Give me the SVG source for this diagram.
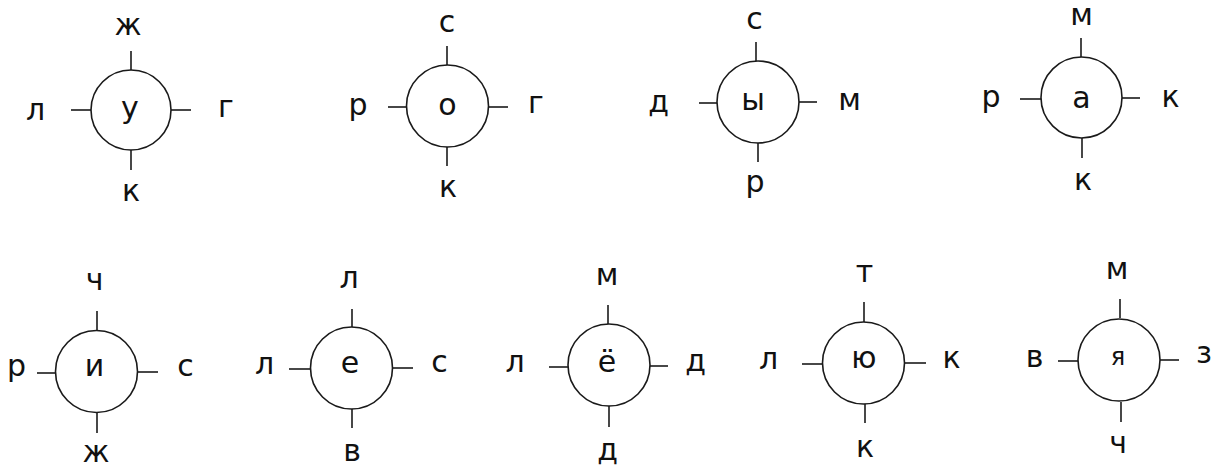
<svg xmlns="http://www.w3.org/2000/svg" width="1221" height="466" viewBox="0 0 1221 466">
<style>
.c{fill:none;stroke:#1a1a1a;stroke-width:1.6}
.t{stroke:#1a1a1a;stroke-width:1.6}
text{font-family:"DejaVu Sans","Liberation Sans",sans-serif;font-size:30px;fill:#111;text-anchor:middle}
.s{font-size:24px}
</style>
<rect width="1221" height="466" fill="#fff"/>
<g id="connectors"/>
<g id="node-u">
<circle class="c" cx="131" cy="110" r="40"/>
<line class="t" x1="131" y1="51" x2="131" y2="70"/><line class="t" x1="131" y1="150" x2="131" y2="170"/>
<line class="t" x1="71" y1="110" x2="91" y2="110"/><line class="t" x1="171" y1="110" x2="191" y2="110"/>
<text x="130" y="118">у</text><text x="128" y="35">ж</text><text x="35.5" y="120">л</text><text x="226" y="117">г</text><text x="131" y="201">к</text>
</g>
<g id="node-o">
<circle class="c" cx="447.5" cy="106" r="41"/>
<line class="t" x1="447" y1="46" x2="447" y2="65"/><line class="t" x1="447" y1="147" x2="447" y2="166"/>
<line class="t" x1="388" y1="107" x2="407" y2="107"/><line class="t" x1="488" y1="107" x2="508" y2="107"/>
<text x="447.5" y="115">о</text><text x="447" y="32">с</text><text x="358" y="115">р</text><text x="536" y="113">г</text><text x="448" y="197">к</text>
</g>
<g id="node-y">
<circle class="c" cx="758" cy="102" r="41"/>
<line class="t" x1="756" y1="42" x2="756" y2="61"/><line class="t" x1="758" y1="143" x2="758" y2="162"/>
<line class="t" x1="699" y1="103" x2="717" y2="103"/><line class="t" x1="799" y1="102" x2="817" y2="102"/>
<text x="753" y="110">ы</text><text x="754.5" y="29">с</text><text x="658.5" y="112">д</text><text x="849.5" y="110">м</text><text x="755" y="192">р</text>
</g>
<g id="node-a">
<circle class="c" cx="1081.5" cy="97.5" r="40.5"/>
<line class="t" x1="1081" y1="38" x2="1081" y2="57"/><line class="t" x1="1082" y1="138" x2="1082" y2="158"/>
<line class="t" x1="1020" y1="99" x2="1041" y2="99"/><line class="t" x1="1122" y1="98" x2="1140" y2="98"/>
<text x="1081.5" y="108">а</text><text x="1081.5" y="25">м</text><text x="991" y="107">р</text><text x="1170.5" y="107">к</text><text x="1083" y="190">к</text>
</g>
<g id="node-i">
<circle class="c" cx="96.5" cy="371.5" r="41"/>
<line class="t" x1="97" y1="311" x2="97" y2="330"/><line class="t" x1="97" y1="413" x2="97" y2="433"/>
<line class="t" x1="37" y1="373" x2="56" y2="373"/><line class="t" x1="137" y1="372" x2="158" y2="372"/>
<text x="94.5" y="376">и</text><text x="94.5" y="290">ч</text><text x="16.5" y="376">р</text><text x="185.5" y="376">с</text><text x="96" y="462">ж</text>
</g>
<g id="node-e">
<circle class="c" cx="351.5" cy="368" r="41"/>
<line class="t" x1="352" y1="309" x2="352" y2="327"/><line class="t" x1="352" y1="409" x2="352" y2="428"/>
<line class="t" x1="289" y1="369" x2="310" y2="369"/><line class="t" x1="393" y1="368" x2="413" y2="368"/>
<text x="350" y="373">е</text><text x="349" y="288">л</text><text x="264.5" y="374">л</text><text x="439.5" y="372">с</text><text x="352" y="461">в</text>
</g>
<g id="node-yo">
<circle class="c" cx="609" cy="365" r="41"/>
<line class="t" x1="608" y1="305" x2="608" y2="324"/><line class="t" x1="609" y1="406" x2="609" y2="427"/>
<line class="t" x1="549" y1="367" x2="568" y2="367"/><line class="t" x1="650" y1="366" x2="668" y2="366"/>
<text x="607" y="372">ё</text><text x="607" y="285">м</text><text x="515" y="372">л</text><text x="695.5" y="371">д</text><text x="607.5" y="460">д</text>
</g>
<g id="node-yu">
<circle class="c" cx="863.5" cy="363" r="41"/>
<line class="t" x1="864" y1="302" x2="864" y2="322"/><line class="t" x1="865" y1="404" x2="865" y2="423"/>
<line class="t" x1="802" y1="364" x2="822" y2="364"/><line class="t" x1="905" y1="363" x2="926" y2="363"/>
<text x="864" y="368">ю</text><text x="864.5" y="282">т</text><text x="768.5" y="369">л</text><text x="951.5" y="368">к</text><text x="865" y="457">к</text>
</g>
<g id="node-ya">
<circle class="c" cx="1119" cy="360" r="41"/>
<line class="t" x1="1120" y1="299" x2="1120" y2="318"/><line class="t" x1="1121" y1="402" x2="1121" y2="422"/>
<line class="t" x1="1058" y1="361" x2="1078" y2="361"/><line class="t" x1="1160" y1="360" x2="1179" y2="360"/>
<text class="s" x="1118" y="365">я</text><text x="1117" y="279">м</text><text x="1034.5" y="367">в</text><text x="1204" y="363">з</text><text x="1118" y="453">ч</text>
</g>
</svg>
